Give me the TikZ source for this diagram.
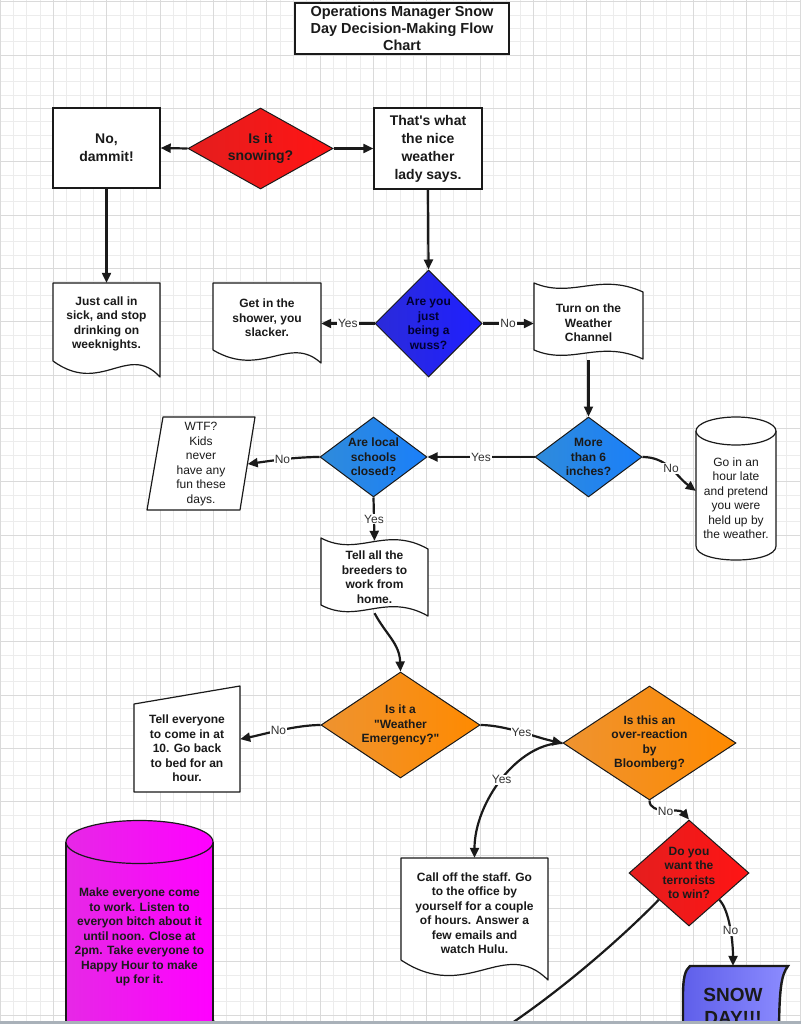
\documentclass[tikz,border=0pt]{standalone}
\usepackage{fontspec}
\setmainfont{Liberation Sans}[Ligatures=TeXOff]
\usetikzlibrary{shapes.geometric,arrows.meta,calc}
\definecolor{gridminor}{HTML}{ECECEC}
\definecolor{gridmajor}{HTML}{DADADA}
\definecolor{redL}{HTML}{E41E1E}
\definecolor{redR}{HTML}{FF1414}
\definecolor{wussL}{HTML}{2B2BD9}
\definecolor{wussR}{HTML}{1F1FFF}
\definecolor{skyL}{HTML}{2F8BDB}
\definecolor{skyR}{HTML}{1A7FFA}
\definecolor{orL}{HTML}{EE9330}
\definecolor{orR}{HTML}{FF8A00}
\definecolor{magL}{HTML}{E628E6}
\definecolor{magR}{HTML}{FF00FF}
\definecolor{snowL}{HTML}{5F5FEA}
\definecolor{snowR}{HTML}{8C8CFF}
\definecolor{ink}{HTML}{1A1A1A}
\definecolor{barc}{HTML}{A9B1B9}
\newcommand\FontTitle{\bfseries\fontsize{14.5}{17}\selectfont}
\newcommand\FontBig{\bfseries\fontsize{14}{17.5}\selectfont}
\newcommand\FontBox{\bfseries\fontsize{12}{14.5}\selectfont}
\newcommand\FontReg{\fontsize{12}{14.5}\selectfont}
\newcommand\FontLbl{\fontsize{12}{12}\selectfont}
\begin{document}
\begin{tikzpicture}[x=1pt,y=-1pt,
  conn/.style={line width=2.2pt, draw=ink, -{Triangle[length=10pt,width=9pt]}},
  lbl/.style={fill=white, inner sep=1pt, font=\FontLbl, text=black!80},
  diam/.style={diamond, draw=ink, line width=1pt, inner sep=0pt, aspect=1},
  shp/.style={draw=ink, line width=1.2pt, fill=white, line join=round},
  tnode/.style={align=center, inner sep=0pt, text=ink},
  rbox/.style={draw=ink, line width=1.4pt, fill=white, align=center, inner sep=0pt, text=ink},
]
\useasboundingbox (0,0) rectangle (801,1024);
\clip (0,0) rectangle (801,1024);
\fill[white] (0,0) rectangle (801,1024);
% grid
\foreach \i in {0,...,60} { \draw[gridminor, line width=0.6pt] ({\i*13.333},0) -- ({\i*13.333},1024); }
\foreach \j in {0,...,77} { \draw[gridminor, line width=0.6pt] (0,{1.7+\j*13.333}) -- (801,{1.7+\j*13.333}); }
\foreach \i in {0,4,...,60} { \draw[gridmajor, line width=0.8pt] ({\i*13.333},0) -- ({\i*13.333},1024); }
\foreach \j in {0,4,...,76} { \draw[gridmajor, line width=0.8pt] (0,{1.7+\j*13.333}) -- (801,{1.7+\j*13.333}); }

% title
\node[rbox, line width=2.4pt, minimum width=214, minimum height=51, font=\FontTitle] (title) at (402,28.5) {Operations Manager Snow\\Day Decision-Making Flow\\Chart};

% row 1
\node[rbox, minimum width=107, minimum height=80, font=\FontBig] (dammit) at (106.5,148) {No,\\dammit!};
\node[diam, minimum width=145, minimum height=81, left color=redL, right color=redR] (snowD) at (260.5,148.5) {};
\node[tnode, font=\FontBig] (snowT) at (snowD) {Is it\\snowing?};
\node[rbox, minimum width=108, minimum height=81, font=\bfseries\fontsize{14}{18}\selectfont] (lady) at (428,148.5) {That's what\\the nice\\weather\\lady says.};

% row 2
\draw[shp] (53,283) -- (160,283) -- (160,377) .. controls (128,342) and (101,396) .. (53,361) -- cycle;
\node[tnode, font=\FontBox, minimum width=107, minimum height=82] (sick) at (106.5,324) {Just call in\\sick, and stop\\drinking on\\weeknights.};
\draw[shp] (213,283) -- (321,283) -- (321,363) .. controls (289,334) and (262,379) .. (213,350) -- cycle;
\node[tnode, font=\FontBox, minimum width=108, minimum height=70] (shower) at (267,318) {Get in the\\shower, you\\slacker.};
\node[diam, minimum width=107, minimum height=107, left color=wussL, right color=wussR] (wussD) at (428.5,323.5) {};
\node[tnode, font=\FontBox, text=black!80!blue] (wussT) at (wussD) {Are you\\just\\being a\\wuss?};
\draw[shp] (534,283) .. controls (572,299) and (599,272) .. (643,292) -- (643,359) .. controls (599,339) and (572,366) .. (534,350) -- cycle;
\node[tnode, font=\FontBox, minimum width=109, minimum height=74] (channel) at (588.5,323) {Turn on the\\Weather\\Channel};

% row 3
\draw[shp] (163,417) -- (255,417) -- (240,510) -- (147,510) -- cycle;
\node[tnode, font=\FontReg, minimum width=93, minimum height=90] (wtf) at (201,464) {WTF?\\Kids\\never\\have any\\fun these\\days.};
\node[diam, minimum width=107, minimum height=80, left color=skyL, right color=skyR] (schoolsD) at (373.5,457) {};
\node[tnode, font=\FontBox] (schoolsT) at (schoolsD) {Are local\\schools\\closed?};
\node[diam, minimum width=107, minimum height=80, left color=skyL, right color=skyR] (moreD) at (588.5,457) {};
\node[tnode, font=\FontBox] (moreT) at (moreD) {More\\than 6\\inches?};
\draw[shp] (696,431) -- (696,546) .. controls (696,564.7) and (776,564.7) .. (776,546) -- (776,431);
\draw[shp] (736,431) ellipse [x radius=40, y radius=14];
\node[tnode, font=\FontReg, minimum width=80, minimum height=90] (late) at (736,498) {Go in an\\hour late\\and pretend\\you were\\held up by\\the weather.};

% breeders
\draw[shp] (321,538) .. controls (358.5,557.8) and (385,524.8) .. (428,549) -- (428,616) .. controls (385,591.8) and (358.5,624.8) .. (321,605) -- cycle;
\node[tnode, font=\FontBox, minimum width=107, minimum height=72] (breeders) at (374.5,577) {Tell all the\\breeders to\\work from\\home.};

% row 4
\draw[shp] (134,704) -- (240,686) -- (240,792) -- (134,792) -- cycle;
\node[tnode, font=\FontBox, minimum width=106, minimum height=80] (tell) at (187,748.5) {Tell everyone\\to come in at\\10. Go back\\to bed for an\\hour.};
\node[diam, minimum width=159, minimum height=106, left color=orL, right color=orR] (weD) at (400.5,725) {};
\node[tnode, font=\FontBox] (weT) at (weD) {Is it a\\"Weather\\Emergency?"};
\node[diam, minimum width=173, minimum height=114, left color=orL, right color=orR] (bloomD) at (649.5,743) {};
\node[tnode, font=\FontBox] (bloomT) at (bloomD) {Is this an\\over-reaction\\by\\Bloomberg?};

% row 5
\path[left color=magL, right color=magR] (66,842) -- (66,1040) -- (213,1040) -- (213,842) -- cycle;
\draw[ink, line width=1.2pt] (66,842) -- (66,1040) (213,842) -- (213,1040);
\draw[ink, line width=1.2pt, left color=magL, right color=magR] (139.5,842) ellipse [x radius=73.5, y radius=21.5];
\node[tnode, font=\FontBox, minimum width=147, minimum height=162] (mag) at (139.5,937) {Make everyone come\\to work. Listen to\\everyon bitch about it\\until noon. Close at\\2pm. Take everyone to\\Happy Hour to make\\up for it.};
\draw[shp] (401,858) -- (548,858) -- (548,980) .. controls (504,936) and (467,1004) .. (401,960) -- cycle;
\node[tnode, font=\FontBox, minimum width=147, minimum height=110] (calloff) at (474.5,913) {Call off the staff. Go\\to the office by\\yourself for a couple\\of hours. Answer a\\few emails and\\watch Hulu.};
\node[diam, minimum width=120, minimum height=106, left color=redL, right color=redR] (terrD) at (689,873) {};
\node[tnode, font=\FontBox] (terrT) at (terrD) {Do you\\want the\\terrorists\\to win?};
\draw[line width=2.4pt, draw=ink, left color=snowL, right color=snowR] (690,966) -- (788,966) .. controls (781,975) and (779,990) .. (779,1040) -- (683,1040) -- (683,995) .. controls (683,978) and (685,970) .. (690,966) -- cycle;
\node[tnode, font=\bfseries\fontsize{19}{23}\selectfont, minimum width=96, minimum height=80] (snow) at (733,1006) {SNOW\\DAY!!!};

% connectors
\draw[conn] (snowD.west) -- (dammit.east);
\draw[conn] (snowD.east) -- (lady.west);
\draw[conn] (dammit.south) -- (sick.north);
\draw[conn] (lady.south) -- (wussD.north);
\draw[conn] (wussD.west) -- (wussD.west -| shower.east) node[lbl,midway]{Yes};
\draw[conn] (wussD.east) -- (wussD.east -| channel.west) node[lbl,midway]{No};
\draw[conn] (channel.south) -- (moreD.north);
\draw[conn] (moreD.west) -- (schoolsD.east) node[lbl,midway]{Yes};
\draw[conn] (schoolsD.west) .. controls +(-25,0) and +(22,-3) .. (wtf.east) node[lbl,midway]{No};
\draw[conn] (moreD.east) .. controls +(25,0) and +(-20,-15) .. (late.170) node[lbl,midway]{No};
\draw[conn] (schoolsD.south) -- (breeders.north) node[lbl,midway]{Yes};
\draw[conn] (breeders.south) .. controls +(12,22) and +(-1,-28) .. (weD.north);
\draw[conn] (weD.west) .. controls +(-25,0) and +(20,-4) .. (tell.10) node[lbl,midway]{No};
\draw[conn] (weD.east) .. controls +(25,0) and +(-25,-5) .. (bloomD.west) node[lbl,midway]{Yes};
\draw[conn] (bloomD.west) .. controls +(-45,0) and +(0,-55) .. (calloff.north) node[lbl,midway]{Yes};
\draw[conn] (bloomD.south) .. controls +(0,15) and +(-10,-12) .. (terrD.north) node[lbl,midway]{No};
\draw[conn] (terrD.south east) .. controls +(10,10) and +(0,-25) .. (snow.north) node[lbl,pos=0.55]{No};
\draw[conn] (terrD.south west) .. controls (600,960) and (480,1060) .. (400,1080) .. controls (250,1120) and (214,1080) .. (mag.south east);

% bottom bar
\fill[barc] (0,1020.5) rectangle (801,1024);
\end{tikzpicture}
\end{document}
